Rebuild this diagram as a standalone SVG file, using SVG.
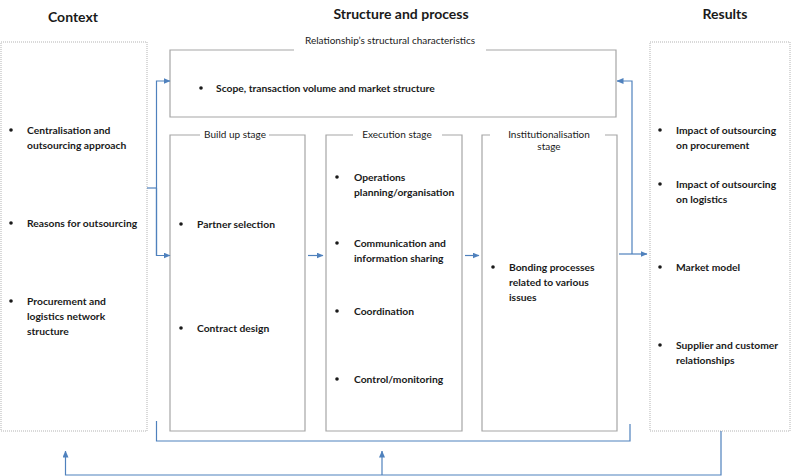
<svg xmlns="http://www.w3.org/2000/svg" width="796" height="476" viewBox="0 0 796 476">
<style>
text{font-family:Lato,"Open Sans","Liberation Sans",sans-serif;fill:#1a1a1a}
.h{font-size:14px;font-weight:bold;text-anchor:middle}
.lab{font-size:10px;text-anchor:middle}
.b{font-size:10.3px;font-weight:bold}
.box{fill:none;stroke:#a6a6a6;stroke-width:1.2}
.dot{fill:#fff;stroke:#b3b3b3;stroke-width:1;stroke-dasharray:1 1}
.c{fill:none;stroke:#4f81bd;stroke-width:1.2}
.arr{marker-end:url(#ah)}
</style>
<defs>
<marker id="ah" markerWidth="7" markerHeight="6" refX="6.5" refY="3" orient="auto" markerUnits="userSpaceOnUse">
<path d="M0,0 L7,3 L0,6 Z" fill="#4f81bd"/>
</marker>
<circle id="bul" r="1.8" fill="#1a1a1a"/>
</defs>
<rect width="796" height="476" fill="#fff"/>

<g id="headings">
<text class="h" x="73" y="22">Context</text>
<text class="h" x="401" y="19">Structure and process</text>
<text class="h" x="725" y="19">Results</text>
</g>

<g id="context">
<rect class="dot" x="1" y="42" width="146" height="389"/>
<use href="#bul" x="11" y="130"/>
<text class="b" x="27" y="134">Centralisation and</text>
<text class="b" x="27" y="149">outsourcing approach</text>
<use href="#bul" x="11" y="223"/>
<text class="b" x="27" y="227">Reasons for outsourcing</text>
<use href="#bul" x="11" y="301"/>
<text class="b" x="27" y="305">Procurement and</text>
<text class="b" x="27" y="320">logistics network</text>
<text class="b" x="27" y="335">structure</text>
</g>

<g id="relationship">
<path class="box" d="M294,50 H170 V117 H616 V50 H486"/>
<text class="lab" x="390" y="44">Relationship’s structural characteristics</text>
<use href="#bul" x="201" y="88"/>
<text class="b" x="216" y="92">Scope, transaction volume and market structure</text>
</g>

<g id="buildup">
<path class="box" d="M200,135 H170 V431 H305 V135 H269"/>
<text class="lab" x="235" y="138">Build up stage</text>
<use href="#bul" x="181" y="224"/>
<text class="b" x="197" y="228">Partner selection</text>
<use href="#bul" x="181" y="328"/>
<text class="b" x="197" y="332">Contract design</text>
</g>

<g id="execution">
<path class="box" d="M353,135 H326 V431 H462 V135 H442"/>
<text class="lab" x="397" y="138">Execution stage</text>
<use href="#bul" x="337" y="177"/>
<text class="b" x="354" y="181">Operations</text>
<text class="b" x="354" y="196">planning/organisation</text>
<use href="#bul" x="337" y="243"/>
<text class="b" x="354" y="247">Communication and</text>
<text class="b" x="354" y="262">information sharing</text>
<use href="#bul" x="337" y="311"/>
<text class="b" x="354" y="315">Coordination</text>
<use href="#bul" x="337" y="379"/>
<text class="b" x="354" y="383">Control/monitoring</text>
</g>

<g id="institutionalisation">
<path class="box" d="M490,135 H482 V431 H617 V135 H605"/>
<text class="lab" x="549" y="138">Institutionalisation</text>
<text class="lab" x="549" y="150">stage</text>
<use href="#bul" x="493" y="267"/>
<text class="b" x="509" y="271">Bonding processes</text>
<text class="b" x="509" y="286">related to various</text>
<text class="b" x="509" y="301">issues</text>
</g>

<g id="results">
<rect class="dot" x="650" y="42" width="140" height="389"/>
<use href="#bul" x="660" y="130"/>
<text class="b" x="676" y="134">Impact of outsourcing</text>
<text class="b" x="676" y="149">on procurement</text>
<use href="#bul" x="660" y="184"/>
<text class="b" x="676" y="188">Impact of outsourcing</text>
<text class="b" x="676" y="203">on logistics</text>
<use href="#bul" x="660" y="267"/>
<text class="b" x="676" y="271">Market model</text>
<use href="#bul" x="660" y="345"/>
<text class="b" x="676" y="349">Supplier and customer</text>
<text class="b" x="676" y="364">relationships</text>
</g>

<g id="connectors">
<path class="c" d="M147,188 H156.5"/>
<path class="c arr" d="M156.5,255.5 V81 H170"/>
<path class="c arr" d="M156.5,188 V255.5 H170"/>
<path class="c arr" d="M308,255.5 H323"/>
<path class="c arr" d="M465,255.5 H479"/>
<path class="c arr" d="M619,254 H647"/>
<path class="c arr" d="M632,254 V81 H617"/>
<path class="c" d="M156.5,421 V441 H630 V424"/>
<path class="c arr" d="M721,431 V475 H65.5 V451"/>
<path class="c arr" d="M382,475 V451"/>
</g>
</svg>
